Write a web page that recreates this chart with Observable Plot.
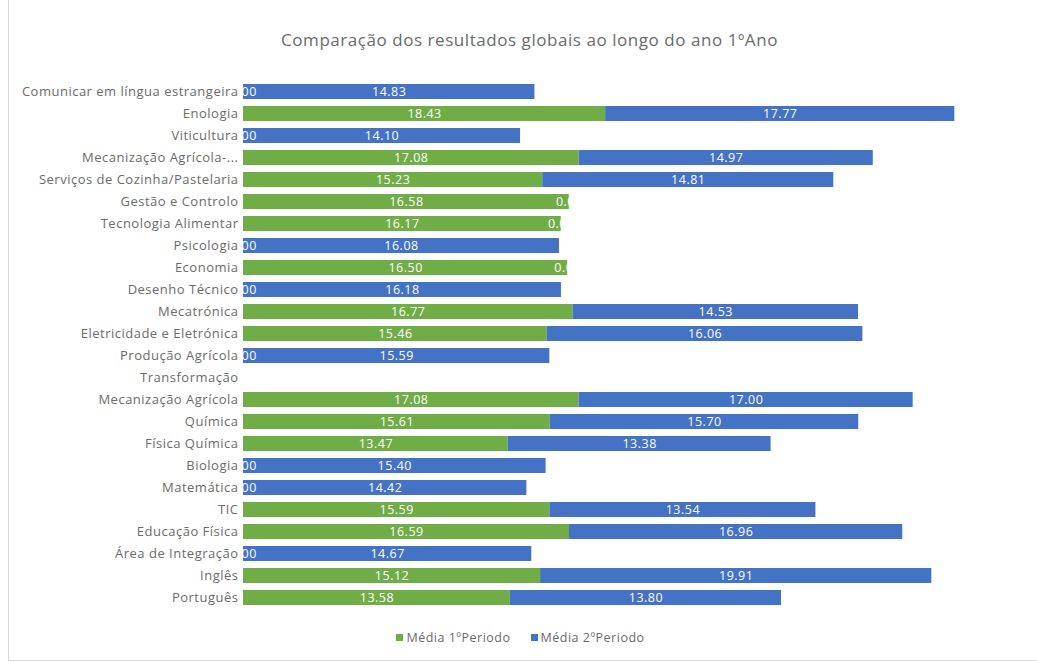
<!DOCTYPE html>
<html><head><meta charset="utf-8">
<script src="https://cdn.jsdelivr.net/npm/d3@7"></script>
<script src="https://cdn.jsdelivr.net/npm/@observablehq/plot@0.6"></script>
<style>
body{margin:0;background:#fff;font-family:"Open Sans",sans-serif;}
#frame{position:absolute;left:8px;top:-2px;width:1040px;height:663px;border:1px solid #d9d9d9;box-sizing:border-box;pointer-events:none;}
#wrap{position:relative;width:1037px;}
#title{height:30px;padding-top:30px;line-height:20px;text-align:center;font-size:17px;letter-spacing:0.55px;color:#6b6b6b;padding-left:22px;}
#legend{height:26px;line-height:26px;text-align:center;font-size:12.5px;letter-spacing:0.5px;color:#6b6b6b;padding-left:4px;}
#legend span.sw{display:inline-block;width:7px;height:7px;margin-right:3px;vertical-align:1px;}
#legend span.item{margin:0 10px;}
</style></head>
<body>
<div id="frame"></div>
<div id="wrap">
<div id="title">Comparação dos resultados globais ao longo do ano 1ºAno</div>
<div id="chart"></div>
<div id="legend"></div>
</div>
<script>
const subjects = ["Comunicar em língua estrangeira","Enologia","Viticultura","Mecanização Agrícola-...","Serviços de Cozinha/Pastelaria","Gestão e Controlo","Tecnologia Alimentar","Psicologia","Economia","Desenho Técnico","Mecatrónica","Eletricidade e Eletrónica","Produção Agrícola","Transformação","Mecanização Agrícola","Química","Física Química","Biologia","Matemática","TIC","Educação Física","Área de Integração","Inglês","Português"];
const periodo1 = [0,18.43,0,17.08,15.23,16.58,16.17,0,16.50,0,16.77,15.46,0,0,17.08,15.61,13.47,0,0,15.59,16.59,0,15.12,13.58];
const periodo2 = [14.83,17.77,14.10,14.97,14.81,0,0,16.08,0,16.18,14.53,16.06,15.59,0,17.00,15.70,13.38,15.40,14.42,13.54,16.96,14.67,19.91,13.80];
const seriesNames = ["Média 1ºPeriodo","Média 2ºPeriodo"];
const seriesColors = ["#70AD47","#4472C4"];

const rows = [];
subjects.forEach((s,i)=>{
  rows.push({subject:s, series:seriesNames[0], value:periodo1[i]});
  rows.push({subject:s, series:seriesNames[1], value:periodo2[i]});
});

const chart = Plot.plot({
  width:1037, height:565,
  marginTop:14.6, marginBottom:10.6, marginLeft:243, marginRight:8,
  style:{fontFamily:"Open Sans, sans-serif", fontSize:"13px", letterSpacing:"0.5px", color:"#6b6b6b", background:"transparent"},
  x:{domain:[0,40], axis:null},
  y:{domain:subjects, padding:0.3, label:null},
  color:{domain:seriesNames, range:seriesColors},
  marks:[
    Plot.axisY({tickSize:0, tickPadding:5, fill:"#6b6b6b", fontSize:13}),
    Plot.barX(rows, Plot.stackX({x:"value", y:"subject", z:"series", fill:"series", order:null})),
    Plot.textX(rows, Plot.stackX({x:"value", y:"subject", z:"series", order:null, text:d=>d3.format(".2f")(d.value), fill:"white", fontSize:12.5, clip:true}))
  ]
});
document.getElementById("chart").appendChild(chart);

const leg = document.getElementById("legend");
seriesNames.forEach((n,i)=>{
  const it = document.createElement("span"); it.className="item";
  const sw = document.createElement("span"); sw.className="sw"; sw.style.background=seriesColors[i];
  it.appendChild(sw); it.appendChild(document.createTextNode(n));
  leg.appendChild(it);
});
</script>
</body></html>
